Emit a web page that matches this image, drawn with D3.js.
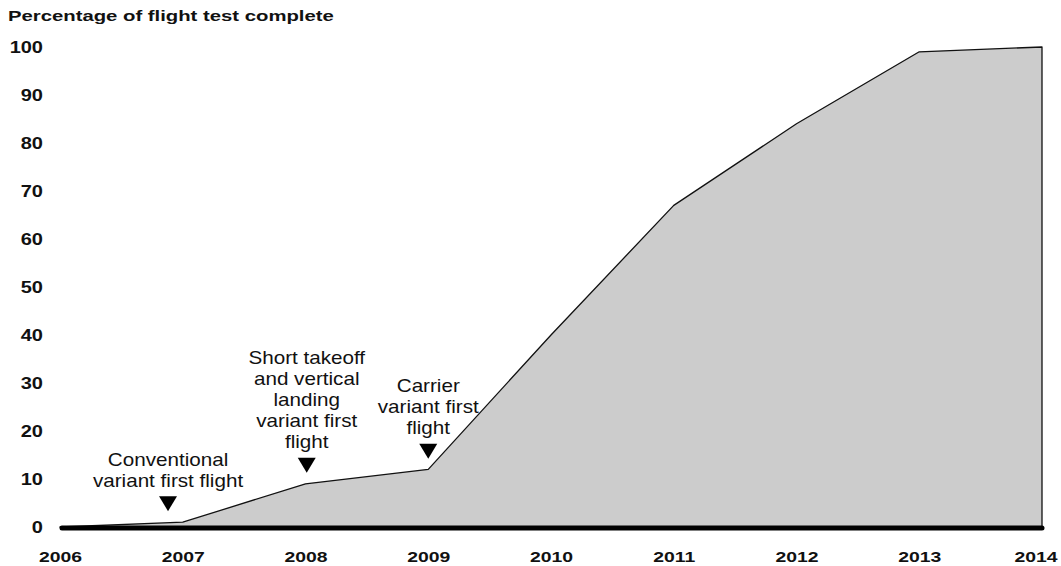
<!DOCTYPE html>
<html>
<head>
<meta charset="utf-8">
<script src="https://cdn.jsdelivr.net/npm/d3@7"></script>
<style>
    body { margin: 0; background: #fff; }
    svg { display: block; font-family: "Liberation Sans", Arial, Helvetica, sans-serif; }
</style>
</head>
<body>
<div id="chart"></div>
<script>
// data
const years = [2006, 2007, 2008, 2009, 2010, 2011, 2012, 2013, 2014];
const percentComplete = [0, 1, 9, 12, 40, 67, 84, 99, 100];
const yTicks = [0, 10, 20, 30, 40, 50, 60, 70, 80, 90, 100];
const xTicks = years;

// first-flight markers: label lines, year of the marker, level the arrow points to
const eventLabels = [
    ["Conventional", "variant first flight"],
    ["Short takeoff", "and vertical", "landing", "variant first", "flight"],
    ["Carrier", "variant first", "flight"]
];
const eventYears = [2006.88, 2008.01, 2009.0];
const eventLevels = [3.3, 11.3, 14.2];

const cfg = {
    width: 1061,
    height: 566,
    left: 60,
    right: 1042,
    top: 47,
    bottom: 527,
    stretch: 1.25,     // the source text is drawn wider than Helvetica
    labelStretch: 1.18,
    lineHeight: 21
};

const svg = d3.select("#chart")
    .append("svg")
    .attr("width", cfg.width)
    .attr("height", cfg.height);

const x = d3.scaleLinear()
    .domain([2006, 2014])
    .range([cfg.left, cfg.right]);

const y = d3.scaleLinear()
    .domain([0, 100])
    .range([cfg.bottom, cfg.top]);

const rows = years.map((yr, i) => ({ year: yr, value: percentComplete[i] }));

// title
svg.append("g")
    .attr("transform", "translate(8,21) scale(1.31,1)")
    .append("text")
    .attr("font-size", 15.5)
    .attr("font-weight", "bold")
    .attr("fill", "#111")
    .text("Percentage of flight test complete");

// area
const area = d3.area()
    .x(d => x(d.year))
    .y0(y(0))
    .y1(d => y(d.value));

svg.append("path")
    .datum(rows)
    .attr("d", area)
    .attr("fill", "#cccccc")
    .attr("stroke", "#111")
    .attr("stroke-width", 1.3)
    .attr("stroke-linejoin", "round");

// thick baseline
svg.append("line")
    .attr("x1", x(2006) + 2)
    .attr("x2", x(2014))
    .attr("y1", y(0) + 1)
    .attr("y2", y(0) + 1)
    .attr("stroke", "#000")
    .attr("stroke-width", 5)
    .attr("stroke-linecap", "round");

// y axis
const yAxis = svg.append("g")
    .attr("transform", "translate(43,0)")
    .call(d3.axisLeft(y).tickValues(yTicks).tickSize(0).tickPadding(0));
yAxis.select(".domain").remove();
yAxis.selectAll("text")
    .attr("x", 0)
    .attr("dy", "0.36em")
    .attr("transform", `scale(${cfg.stretch},1)`)
    .attr("font-size", 16)
    .attr("font-weight", "bold")
    .attr("font-family", null)
    .attr("fill", "#111");

// x axis
const xAxis = svg.append("g")
    .attr("transform", "translate(0,556)")
    .call(d3.axisBottom(x).tickValues(xTicks).tickSize(0).tickPadding(0).tickFormat(d3.format("d")));
xAxis.select(".domain").remove();
xAxis.selectAll("text")
    .attr("y", 0)
    .attr("dy", "0.36em")
    .attr("transform", `scale(${cfg.stretch},1)`)
    .attr("font-size", 15.5)
    .attr("font-weight", "bold")
    .attr("font-family", null)
    .attr("fill", "#111");
// last label sits against the right edge
xAxis.selectAll("text")
    .filter(d => d === 2014)
    .attr("text-anchor", "end")
    .attr("x", 15 / cfg.stretch);

// event markers
const events = svg.selectAll(".event")
    .data(eventLabels)
    .enter()
    .append("g")
    .attr("class", "event")
    .attr("transform", (d, i) => "translate(" + x(eventYears[i]) + "," + y(eventLevels[i]) + ")");

events.append("path")
    .attr("d", "M-9,-15L9,-15L0,0Z")
    .attr("fill", "#000");

events.each(function(lines) {
    const g = d3.select(this);
    const n = lines.length;
    lines.forEach((line, j) => {
        g.append("g")
            .attr("transform", "translate(0," + (-24.5 - (n - 1 - j) * cfg.lineHeight) + ") scale(" + cfg.labelStretch + ",1)")
            .append("text")
            .attr("text-anchor", "middle")
            .attr("font-size", 17.5)
            .attr("fill", "#111")
            .text(line);
    });
});
</script>
</body>
</html>
